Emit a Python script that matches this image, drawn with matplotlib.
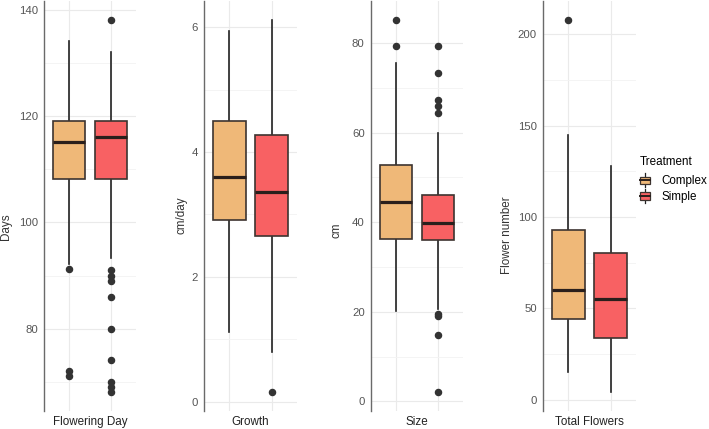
import matplotlib
matplotlib.use("Agg")
import matplotlib.pyplot as plt
from matplotlib.patches import Patch, Rectangle
from matplotlib.lines import Line2D
from matplotlib.legend_handler import HandlerBase
from matplotlib.ticker import MultipleLocator

plt.rcParams['font.family'] = ['Liberation Sans', 'DejaVu Sans']

# treatments and colours
treatments = ['Complex', 'Simple']
colors = ['#EFB878', '#F86163']

# panels
panel_names = ['Flowering Day', 'Growth', 'Size', 'Total Flowers']
ylabels = ['Days', 'cm/day', 'cm', 'Flower number']

# box summaries: [Complex, Simple]
medians = [[115.1, 116.1], [3.60, 3.36], [44.5, 39.9], [60.2, 55.1]]
q1s = [[108.2, 108.2], [2.91, 2.65], [36.3, 35.9], [44.1, 34.0]]
q3s = [[119.1, 119.1], [4.49, 4.28], [52.7, 46.1], [93.1, 80.2]]
whis_lo = [[92.2, 93.3], [1.12, 0.80], [20.2, 20.6], [15.3, 4.0]]
whis_hi = [[134.1, 132.1], [5.94, 6.12], [75.5, 60.0], [144.9, 127.9]]
outliers = [
    [[91.2, 72.0, 71.0], [138.2, 91.0, 90.0, 89.0, 85.9, 80.0, 74.1, 70.0, 69.0, 68.0]],
    [[], [0.15]],
    [[85.2, 79.3], [79.3, 73.3, 67.2, 65.9, 64.3, 19.6, 19.0, 14.8, 2.0]],
    [[208.0], []],
]

major_steps = [20, 2, 20, 50]
minor_steps = [10, 1, 10, 25]

# layout in pixels (left, width) of each panel
W, H = 709, 429
panel_px = [(44, 92), (204, 93), (371, 92), (543, 93)]
ylabel_px = [(6, 227), (181, 215), (336, 230), (507, 235)]
plot_top, plot_bottom = 1, 411

fig = plt.figure(figsize=(W / 100, H / 100), dpi=100)

positions = [0.726, 1.274]
box_w = 0.42
edge = '#3d3430'

for i in range(4):
    left, width = panel_px[i]
    ax = fig.add_axes([left / W, (H - plot_bottom) / H, width / W,
                       (plot_bottom - plot_top) / H])
    stats = []
    for j in range(2):
        stats.append(dict(med=medians[i][j], q1=q1s[i][j], q3=q3s[i][j],
                          whislo=whis_lo[i][j], whishi=whis_hi[i][j],
                          fliers=outliers[i][j]))
    bp = ax.bxp(stats, positions=positions, widths=box_w, patch_artist=True,
                showcaps=False,
                boxprops=dict(edgecolor=edge, linewidth=1.2),
                medianprops=dict(color='#2a1f1c', linewidth=2.3),
                whiskerprops=dict(color='#222222', linewidth=1.2),
                flierprops=dict(marker='o', markerfacecolor='#333333',
                                markeredgecolor='#333333', markersize=4.4))
    for patch, c in zip(bp['boxes'], colors):
        patch.set_facecolor(c)
        patch.set_zorder(3)
    for m in bp['medians']:
        m.set_zorder(4)

    # ggplot-like 5% expansion of the data range
    vals = []
    for j in range(2):
        vals += [whis_lo[i][j], whis_hi[i][j]] + outliers[i][j]
    lo, hi = min(vals), max(vals)
    pad = (hi - lo) * 0.05
    ax.set_ylim(lo - pad, hi + pad)
    ax.set_xlim(0.4, 1.6)

    ax.yaxis.set_major_locator(MultipleLocator(major_steps[i]))
    ax.yaxis.set_minor_locator(MultipleLocator(minor_steps[i]))
    ax.set_xticks(positions)
    ax.set_xticklabels([])
    ax.grid(which='major', color='#EAEAEA', linewidth=0.8)
    ax.grid(which='minor', axis='y', color='#F3F3F3', linewidth=0.6)
    ax.set_axisbelow(True)
    ax.tick_params(axis='both', which='both', length=0)
    ax.tick_params(axis='y', labelsize=8.2, labelcolor='#555555', pad=4.5)
    for s in ['top', 'right', 'bottom']:
        ax.spines[s].set_visible(False)
    ax.spines['left'].set_color('#6a6a6a')
    ax.spines['left'].set_linewidth(1.0)
    ax.set_facecolor('none')

    fig.text((left + width / 2) / W, 1 - 422 / H, panel_names[i],
             ha='center', va='center', fontsize=8.4, color='#222222')
    lx, ly = ylabel_px[i]
    fig.text(lx / W, 1 - ly / H, ylabels[i], rotation=90, ha='center',
             va='center', fontsize=8.4, color='#333333')


class BoxKey(HandlerBase):
    def create_artists(self, legend, orig_handle, xdescent, ydescent,
                       width, height, fontsize, trans):
        x0, y0 = -xdescent, -ydescent
        cx = x0 + width / 2
        b0, b1 = y0 + height * 0.15, y0 + height * 0.85
        rect = Rectangle((x0, b0), width, b1 - b0,
                         facecolor=orig_handle.get_facecolor(),
                         edgecolor=edge, linewidth=0.9, transform=trans)
        med = Line2D([x0, x0 + width], [(b0 + b1) / 2] * 2, color='#2a1f1c',
                     linewidth=1.4, transform=trans)
        w1 = Line2D([cx, cx], [y0 - height * 0.15, b0], color='#222222',
                    linewidth=0.9, transform=trans)
        w2 = Line2D([cx, cx], [b1, y0 + height * 1.15], color='#222222',
                    linewidth=0.9, transform=trans)
        return [w1, w2, rect, med]


handles = [Patch(facecolor=c, label=t) for c, t in zip(colors, treatments)]
leg = fig.legend(handles=handles, title='Treatment', loc='upper left',
                 bbox_to_anchor=(640 / W, 1 - 156 / H), frameon=False,
                 fontsize=8.4, title_fontsize=8.4, handlelength=0.85,
                 handleheight=1.0, handletextpad=0.95, labelspacing=0.32,
                 borderpad=0.0, borderaxespad=0.0,
                 handler_map={Patch: BoxKey()})
leg._legend_box.align = 'left'
leg._legend_box.sep = 5

fig.savefig('out.png', dpi=100)
